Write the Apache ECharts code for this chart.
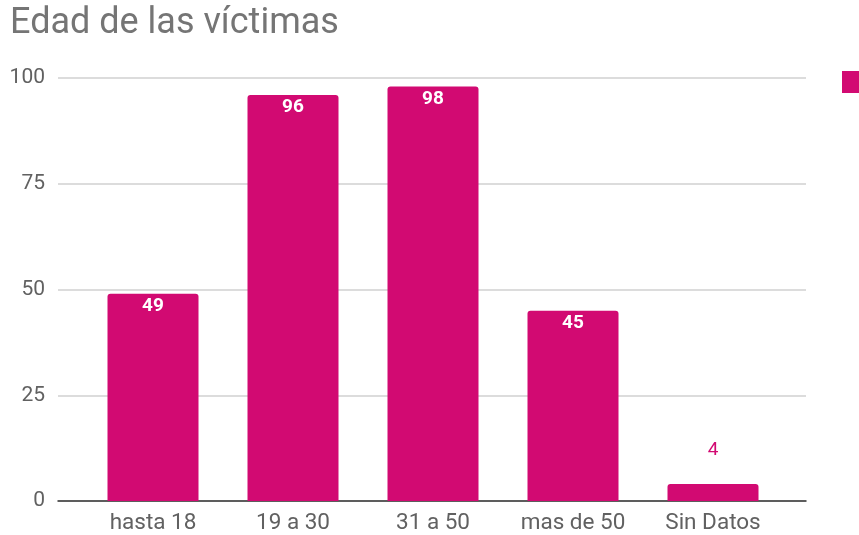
<!DOCTYPE html>
<html><head><meta charset="utf-8">
<script src="https://cdn.jsdelivr.net/npm/echarts@6/dist/echarts.min.js"></script>
<style>html,body{margin:0;padding:0;background:#fff}#c{width:859px;height:535px}</style>
</head><body><div id="c"></div>
<script>
const categories = ['hasta 18', '19 a 30', '31 a 50', 'mas de 50', 'Sin Datos'];
const values = [49, 96, 98, 45, 4];
const yTicks = [0, 25, 50, 75, 100];
const seriesName = 'Víctimas';
const color = '#d20a72';

const chart = echarts.init(document.getElementById('c'));
chart.setOption({
  animation: false,
  title: {
    text: 'Edad de las víctimas', left: 5, top: 1,
    textStyle: { fontFamily: 'Roboto', fontSize: 36, fontWeight: 'normal', color: '#757575' }
  },
  legend: {
    left: 837, top: 66, itemWidth: 22, itemHeight: 22, icon: 'rect',
    formatter: () => '', data: [seriesName]
  },
  grid: [
    { left: 58, right: 53, top: 78, bottom: 34 },
    { left: 83, right: 76, top: 78, bottom: 34 }
  ],
  xAxis: [
    { type: 'value', gridIndex: 0, min: 0, max: 1, show: true,
      axisLine: { show: true, lineStyle: { color: '#333', width: 1.5 } },
      axisTick: { show: false }, axisLabel: { show: false }, splitLine: { show: false } },
    { type: 'category', gridIndex: 1, data: categories, boundaryGap: true,
      axisLine: { show: false }, axisTick: { show: false },
      axisLabel: { margin: 11, fontFamily: 'Roboto', fontSize: 22.5, color: '#616161' } }
  ],
  yAxis: [
    { type: 'value', gridIndex: 0, min: yTicks[0], max: yTicks[yTicks.length - 1], interval: 25,
      axisLine: { show: false }, axisTick: { show: false },
      axisLabel: { margin: 13, fontFamily: 'Roboto', fontSize: 21, color: '#616161' },
      splitLine: { lineStyle: { color: '#d0d0d0', width: 1.5 } } },
    { type: 'value', gridIndex: 1, min: yTicks[0], max: yTicks[yTicks.length - 1],
      show: false, splitLine: { show: false } }
  ],
  series: [{
    name: seriesName, type: 'bar', xAxisIndex: 1, yAxisIndex: 1,
    data: values.map(v => ({
      value: v,
      label: v < 10
        ? { position: 'top', distance: 24, color: color, fontWeight: 'normal' }
        : { position: 'insideTop', distance: 3, color: '#fff', fontWeight: 'bold' }
    })),
    barCategoryGap: '35%',
    itemStyle: { color: color, borderRadius: [3, 3, 0, 0] },
    label: { show: true, fontFamily: 'Roboto', fontSize: 19 }
  }]
});
</script></body></html>
